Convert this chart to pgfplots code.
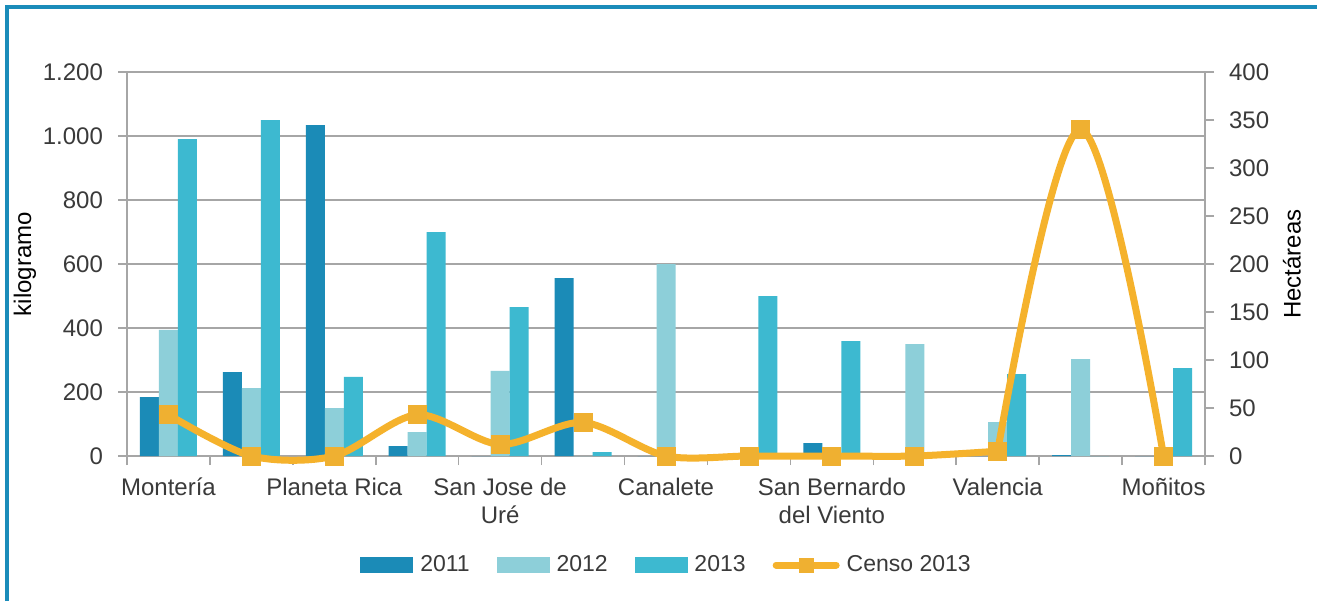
\documentclass[border=0pt]{standalone}
\usepackage{pgfplots}
\pgfplotsset{compat=1.18}
\usepackage{fontspec}
\setmainfont{Liberation Sans}
\definecolor{c2011}{HTML}{1B8BB7}
\definecolor{c2012}{HTML}{8DCFD9}
\definecolor{c2013}{HTML}{3DB9D0}
\definecolor{corange}{HTML}{F5B22C}
\definecolor{markc}{HTML}{EFB031}
\definecolor{gridc}{HTML}{A6A6A6}
\definecolor{textc}{HTML}{3A3A3A}
\definecolor{framec}{HTML}{1A8CBA}
\begin{document}
\begin{tikzpicture}
\useasboundingbox (0,0) rectangle (658.5pt,300.5pt);
\fill[white] (0,0) rectangle (658.5pt,300.5pt);
\draw[framec, line width=2pt] (3.5pt,0) -- (3.5pt,297pt) -- (658.5pt,297pt);
\pgfplotsset{
  myaxis/.style={
    at={(63.5pt,72.5pt)}, anchor=south west, scale only axis,
    width=539pt, height=192pt,
    xmin=-0.5, xmax=12.5, ymin=0,
    font=\fontsize{12}{14}\selectfont,
    tick label style={text=textc},
    label style={text=textc},
    axis line style={-, draw=gridc, line width=0.8pt},
    tick style={draw=gridc, line width=0.8pt},
    tick align=outside,
    major tick length=4.5pt, minor tick length=4.5pt,
    /pgf/number format/.cd, 1000 sep={.}, assume math mode=true,
  }
}
\begin{axis}[myaxis,
  ymax=1200,
  axis y line*=left, axis x line*=bottom,
  ytick={0,200,...,1200},
  yticklabel style={xshift=-4pt},
  ymajorgrids, grid style={draw=gridc, line width=0.8pt},
  xtick={0,2,...,12},
  xticklabels={Montería, Planeta Rica, {San Jose de\\Uré}, Canalete, {San Bernardo\\del Viento}, Valencia, Moñitos},
  xticklabel style={align=center, yshift=-3pt},
  minor xtick={-0.5,0.5,...,12.5},
  major x tick style={draw=none},
  ybar=0pt, bar width=9.5pt,
  ylabel={kilogramo},
  every axis y label/.style={at={(axis description cs:-0.0946,0.5)}, rotate=90, anchor=center},
]
\addplot[fill=c2011, draw=none] coordinates {(0,184) (1,262) (2,1034) (3,31) (4,0) (5,556) (6,0) (7,0) (8,40) (9,0) (10,0) (11,3) (12,0)};
\addplot[fill=c2012, draw=none] coordinates {(0,394) (1,212) (2,150) (3,75) (4,266) (5,0) (6,600) (7,0) (8,0) (9,350) (10,106) (11,303) (12,0)};
\addplot[fill=c2013, draw=none] coordinates {(0,990) (1,1050) (2,247) (3,700) (4,465) (5,12) (6,0) (7,500) (8,359) (9,0) (10,256) (11,0) (12,275)};
\end{axis}
\begin{axis}[myaxis,
  ymax=400,
  axis y line*=right, axis x line=none,
  ytick={0,50,...,400},
  yticklabel style={xshift=4pt},
  ylabel={Hectáreas},
  every axis y label/.style={at={(axis description cs:1.0807,0.5)}, rotate=90, anchor=center},
  clip=false,
  legend columns=4,
  legend style={at={(axis description cs:0.501,-0.284)}, anchor=center, draw=none, fill=none,
    text=textc, font=\fontsize{11.5}{13.5}\selectfont,
    nodes={inner sep=1.5pt},
    /tikz/every odd column/.append style={column sep=2pt},
    /tikz/every even column/.append style={column sep=12pt}},
]
\addlegendimage{legend image code/.code={\fill[c2011] (0pt,-3.75pt) rectangle (26pt,3.75pt);}}
\addlegendimage{legend image code/.code={\fill[c2012] (0pt,-3.75pt) rectangle (26pt,3.75pt);}}
\addlegendimage{legend image code/.code={\fill[c2013] (0pt,-3.75pt) rectangle (26pt,3.75pt);}}
\addlegendimage{legend image code/.code={\draw[corange, line width=3.5pt, line cap=round] (0pt,0pt)--(30pt,0pt); \fill[markc] (11.5pt,-3.5pt) rectangle (18.5pt,3.5pt);}}
\addplot[forget plot, smooth, tension=0.5, color=corange, line width=3.5pt, line cap=round] coordinates {(0,43) (1,0) (2,0) (3,43) (4,12) (5,35) (6,0) (7,0) (8,0) (9,0) (10,5)};
\addplot[forget plot, smooth, tension=0.6, color=corange, line width=3.5pt, line cap=round] coordinates {(10,5) (11,340) (12,0)};
\addplot[forget plot, only marks, mark=square*, mark size=4.5pt, mark options={fill=markc, draw=markc, line width=0.4pt}] coordinates {(0,43) (1,0) (2,0) (3,43) (4,12) (5,35) (6,0) (7,0) (8,0) (9,0) (10,5) (11,340) (12,0)};
\legend{2011,2012,2013,Censo 2013}
\end{axis}
\end{tikzpicture}
\end{document}
